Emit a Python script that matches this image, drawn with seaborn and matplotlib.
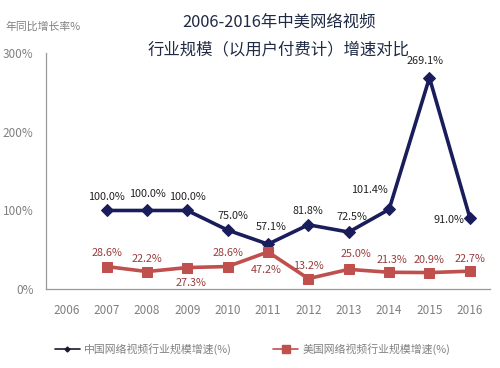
import matplotlib
matplotlib.use("Agg")
import matplotlib.pyplot as plt
import seaborn as sns
import pandas as pd
from matplotlib.lines import Line2D

years = ["2006", "2007", "2008", "2009", "2010", "2011", "2012", "2013", "2014", "2015", "2016"]
china_years = ["2007", "2008", "2009", "2010", "2011", "2012", "2013", "2014", "2015", "2016"]
china = [100.0, 100.0, 100.0, 75.0, 57.1, 81.8, 72.5, 101.4, 269.1, 91.0]
us = [28.6, 22.2, 27.3, 28.6, 47.2, 13.2, 25.0, 21.3, 20.9, 22.7]
china_name = "中国网络视频行业规模增速(%)"
us_name = "美国网络视频行业规模增速(%)"
yticks = [0, 100, 200, 300]
ytick_labels = ["0%", "100%", "200%", "300%"]
title_line1 = "2006-2016年中美网络视频"
title_line2 = "行业规模（以用户付费计）增速对比"
ylabel = "年同比增长率%"

sns.set_theme(style="white")
plt.rcParams["font.family"] = ["Noto Sans CJK SC", "DejaVu Sans"]

navy = "#1a1d5c"
red = "#c0504d"
label_red = "#9a3b3b"
gray = "#808080"

pos = {y: i for i, y in enumerate(years)}
df_cn = pd.DataFrame({"x": [pos[y] for y in china_years], "v": china})
df_us = pd.DataFrame({"x": [pos[y] for y in china_years], "v": us})

fig = plt.figure(figsize=(5.0, 3.68), dpi=100)
ax = fig.add_axes([0.092, 0.2147, 0.888, 0.64])

sns.lineplot(data=df_cn, x="x", y="v", ax=ax, color=navy, lw=2.6,
             marker="D", markersize=6.5, markeredgecolor=navy, legend=False)
sns.lineplot(data=df_us, x="x", y="v", ax=ax, color=red, lw=2.6,
             marker="s", markersize=6.5, markeredgecolor=red, legend=False)

ax.set_xlim(-0.5, len(years) - 0.5)
ax.set_ylim(0, 300)
ax.set_xticks(range(len(years)))
ax.set_xticklabels(years)
ax.set_yticks(yticks)
ax.set_yticklabels(ytick_labels)
ax.tick_params(axis="both", length=0, labelsize=8.5, labelcolor=gray)
ax.tick_params(axis="x", pad=11)
ax.tick_params(axis="y", pad=9)
ax.set_xlabel("")
ax.set_ylabel("")
for s in ["top", "right"]:
    ax.spines[s].set_visible(False)
for s in ["left", "bottom"]:
    ax.spines[s].set_color("#999999")
    ax.spines[s].set_linewidth(0.9)

cn_off = [(0, 10), (0, 12), (0, 10), (4, 10), (2, 12), (0, 10), (2, 11), (-14, 14), (-3, 12), (-15, -2)]
us_off = [(0, 10), (0, 9), (3, -11), (0, 10), (-1, -13), (0, 9), (5, 11), (2, 9), (0, 9), (0, 9)]
for i, (xv, v) in enumerate(zip(df_cn["x"], china)):
    ax.annotate(f"{v:.1f}%", (xv, v), xytext=cn_off[i], textcoords="offset points",
                ha="center", va="center", fontsize=7.8, color="#222222")
for i, (xv, v) in enumerate(zip(df_us["x"], us)):
    ax.annotate(f"{v:.1f}%", (xv, v), xytext=us_off[i], textcoords="offset points",
                ha="center", va="center", fontsize=7.8, color=label_red)

fig.text(0.558, 1 - 22 / 368, title_line1, ha="center", va="center", fontsize=11.8,
         color="#1f2a44")
fig.text(0.558, 1 - 50 / 368, title_line2, ha="center", va="center", fontsize=11.8,
         color="#1f2a44")
fig.text(0.01, 1 - 27 / 368, ylabel, ha="left", va="center", fontsize=7.8, color=gray)

handles = [Line2D([0], [0], color="#1a1a2e", lw=1.2, marker="D", markersize=2.5),
           Line2D([0], [0], color=red, lw=1.2, marker="s", markersize=6)]
fig.legend(handles, [china_name, us_name], loc="center", bbox_to_anchor=(0.505, 0.052),
           ncol=2, frameon=False, fontsize=7.8, labelcolor=gray, handlelength=2.3,
           columnspacing=3.8, handletextpad=0.4)

fig.savefig("out.png", dpi=100)
